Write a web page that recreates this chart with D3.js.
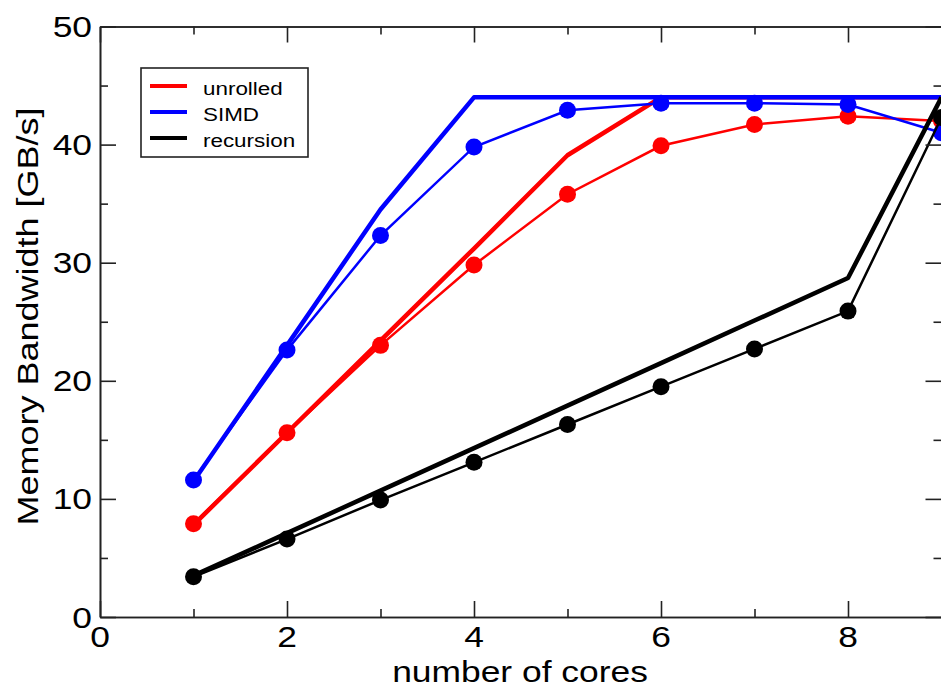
<!DOCTYPE html>
<meta charset="utf-8">
<script src="https://d3js.org/d3.v7.min.js"></script>
<style>
  body { margin: 0; background: #fff; }
  text { font-family: "Liberation Sans", Arial, sans-serif; fill: #000; }
</style>
<div id="my_dataviz"></div>
<script>

  // data
  var cores = [1, 2, 3, 4, 5, 6, 7, 8, 9];

  // measured (thin lines with dots)
  var unrolledMeasured  = [7.9, 15.6, 23.0, 29.8, 35.8, 39.9, 41.7, 42.4, 42.0];
  var simdMeasured      = [11.6, 22.6, 32.3, 39.8, 42.9, 43.5, 43.5, 43.4, 41.0];
  var recursionMeasured = [3.4, 6.6, 9.9, 13.1, 16.3, 19.5, 22.7, 25.9, 42.3];

  // model (thick lines)
  var unrolledModel  = [7.8, 15.6, 23.4, 31.2, 39.1, 44, 44, 44, 44];
  var simdModel      = [11.5, 23.0, 34.5, 44, 44, 44, 44, 44, 44];
  var recursionModel = [3.5, 7.1, 10.7, 14.3, 17.9, 21.5, 25.1, 28.7, 44];

  var legendLabels = ["unrolled", "SIMD", "recursion"];
  var colors = ["#ff0000", "#0000ff", "#000000"];

  var xMajor = [0, 2, 4, 6, 8];
  var xMinor = [1, 3, 5, 7, 9];
  var yMajor = [0, 10, 20, 30, 40, 50];
  var yMinor = [5, 15, 25, 35, 45];

  var series = [
    {model: unrolledModel,  measured: unrolledMeasured,  color: colors[0]},
    {model: simdModel,      measured: simdMeasured,      color: colors[1]},
    {model: recursionModel, measured: recursionMeasured, color: colors[2]}
  ];

  // plot box
  var W = 941, H = 687;
  var boxL = 100, boxR = 941.5, boxT = 26.5, boxB = 617;
  var stretch = 1.18;   // the original font is wider than Arial

  var svg = d3.select("#my_dataviz")
    .append("svg")
      .attr("width", W)
      .attr("height", H);

  var x = d3.scaleLinear().domain([0, 9]).range([boxL, boxR]);
  var y = d3.scaleLinear().domain([0, 50]).range([boxB, boxT]);

  // data lines
  var line = d3.line()
    .x(function (d, i) { return x(cores[i]); })
    .y(function (d) { return y(d); });

  series.forEach(function (s) {
    svg.append("path")
      .attr("d", line(s.model))
      .attr("fill", "none")
      .attr("stroke", s.color)
      .attr("stroke-width", 4.5)
      .attr("stroke-linejoin", "round");

    svg.append("path")
      .attr("d", line(s.measured))
      .attr("fill", "none")
      .attr("stroke", s.color)
      .attr("stroke-width", 2.5);

    svg.append("g")
      .selectAll("circle")
      .data(s.measured)
      .enter()
      .append("circle")
        .attr("cx", function (d, i) { return x(cores[i]); })
        .attr("cy", function (d) { return y(d); })
        .attr("r", 8.5)
        .style("fill", s.color);
  });

  // axes: ticks point inward on all four sides
  function styleAxis(g) {
    g.selectAll("path, line").attr("stroke", "#222").attr("stroke-width", 1.6);
  }

  function addAxis(axisFn, scale, pos, values, size) {
    var a = axisFn(scale).tickValues(values).tickSize(-size).tickSizeOuter(0).tickFormat("");
    var g = svg.append("g")
      .attr("transform", pos)
      .call(a);
    styleAxis(g);
    g.selectAll("text").remove();
    return g;
  }

  addAxis(d3.axisBottom, x, "translate(0," + boxB + ")", xMajor, 16);
  addAxis(d3.axisBottom, x, "translate(0," + boxB + ")", xMinor, 8);
  addAxis(d3.axisTop, x, "translate(0," + boxT + ")", xMajor, 16);
  addAxis(d3.axisTop, x, "translate(0," + boxT + ")", xMinor, 8);
  addAxis(d3.axisLeft, y, "translate(" + boxL + ",0)", yMajor, 16);
  addAxis(d3.axisLeft, y, "translate(" + boxL + ",0)", yMinor, 8);
  addAxis(d3.axisRight, y, "translate(" + boxR + ",0)", yMajor, 16);
  addAxis(d3.axisRight, y, "translate(" + boxR + ",0)", yMinor, 8);

  // tick labels
  svg.append("g")
    .selectAll("text")
    .data(xMajor)
    .enter()
    .append("text")
      .attr("transform", function (d) { return "translate(" + x(d) + "," + (boxB + 30) + ") scale(" + stretch + ",1)"; })
      .attr("text-anchor", "middle")
      .style("font-size", "30px")
      .text(function (d) { return d; });

  svg.append("g")
    .selectAll("text")
    .data(yMajor)
    .enter()
    .append("text")
      .attr("transform", function (d) { return "translate(" + (boxL - 8) + "," + (y(d) + 10.5) + ") scale(" + stretch + ",1)"; })
      .attr("text-anchor", "end")
      .style("font-size", "30px")
      .text(function (d) { return d; });

  // axis titles
  svg.append("text")
    .attr("transform", "translate(520,682) scale(" + stretch + ",1)")
    .attr("text-anchor", "middle")
    .style("font-size", "30px")
    .text("number of cores");

  svg.append("text")
    .attr("transform", "translate(38,316.5) rotate(-90) scale(1.2,1)")
    .attr("text-anchor", "middle")
    .style("font-size", "30px")
    .text("Memory Bandwidth [GB/s]");

  // legend
  var legend = svg.append("g");
  legend.append("rect")
    .attr("x", 141).attr("y", 68)
    .attr("width", 167).attr("height", 89)
    .attr("fill", "#fff")
    .attr("stroke", "#222")
    .attr("stroke-width", 1.6);

  legendLabels.forEach(function (lab, i) {
    var ly = 86 + i * 26;
    legend.append("line")
      .attr("x1", 150).attr("x2", 187)
      .attr("y1", ly).attr("y2", ly)
      .attr("stroke", colors[i])
      .attr("stroke-width", 4);
    legend.append("text")
      .attr("transform", "translate(203," + (ly + 9) + ") scale(" + stretch + ",1)")
      .style("font-size", "19px")
      .text(lab);
  });

</script>
